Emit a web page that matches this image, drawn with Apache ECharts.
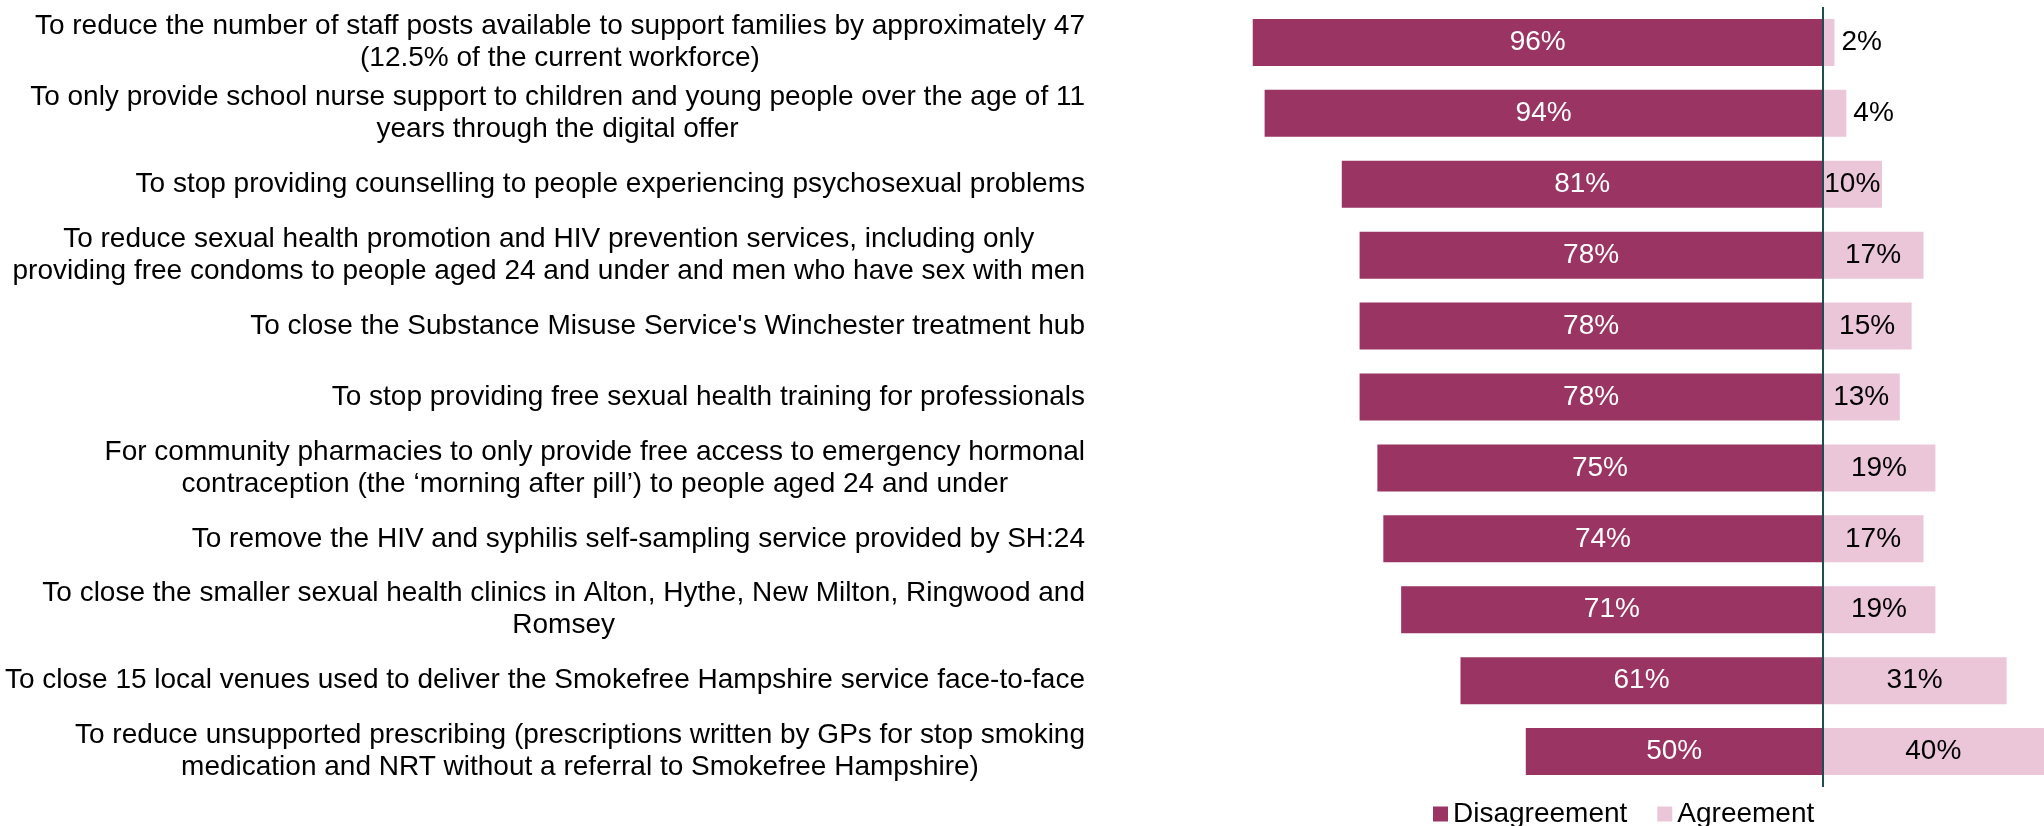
<!DOCTYPE html>
<html>
<head>
<meta charset="utf-8">
<script src="https://cdn.jsdelivr.net/npm/echarts@6/dist/echarts.min.js"></script>
<style>
  html, body { margin: 0; padding: 0; background: #ffffff; }
  #chart { width: 2044px; height: 826px; }
</style>
</head>
<body>
<div id="chart"></div>
<script>
const categories = [
  "To reduce the number of staff posts available to support families by approximately 47\n(12.5% of the current workforce)",
  "To only provide school nurse support to children and young people over the age of 11\nyears through the digital offer",
  "To stop providing counselling to people experiencing psychosexual problems",
  "To reduce sexual health promotion and HIV prevention services, including only\nproviding free condoms to people aged 24 and under and men who have sex with men",
  "To close the Substance Misuse Service's Winchester treatment hub",
  "To stop providing free sexual health training for professionals",
  "For community pharmacies to only provide free access to emergency hormonal\ncontraception (the \u2018morning after pill\u2019) to people aged 24 and under",
  "To remove the HIV and syphilis self-sampling service provided by SH:24",
  "To close the smaller sexual health clinics in Alton, Hythe, New Milton, Ringwood and\nRomsey",
  "To close 15 local venues used to deliver the Smokefree Hampshire service face-to-face",
  "To reduce unsupported prescribing (prescriptions written by GPs for stop smoking\nmedication and NRT without a referral to Smokefree Hampshire)"
];
const disagreement = [96, 94, 81, 78, 78, 78, 75, 74, 71, 61, 50];
const agreement = [2, 4, 10, 17, 15, 13, 19, 17, 19, 31, 40];
const seriesNames = ["Disagreement", "Agreement"];

const FONT = "'Liberation Sans', Arial, sans-serif";
const DARK = "#993463";
const LIGHT = "#EBC5D8";

const chart = echarts.init(document.getElementById('chart'), null, { renderer: 'canvas' });

const agreeData = agreement.map(v => {
  if (v < 5) {
    return { value: v, label: { position: 'right', distance: 7 } };
  }
  return { value: v };
});

const option = {
  animation: false,
  backgroundColor: '#ffffff',
  grid: { left: 1229, right: 0, top: 7, bottom: 39, containLabel: false },
  legend: {
    data: seriesNames,
    left: 1428,
    top: 795,
    icon: 'rect',
    itemWidth: 15,
    itemHeight: 15,
    itemGap: 30,
    textStyle: { fontSize: 28, color: '#000', fontFamily: FONT }
  },
  xAxis: {
    type: 'value',
    min: -100,
    max: 37.3,
    show: false,
    splitLine: { show: false }
  },
  yAxis: {
    type: 'category',
    data: categories,
    inverse: true,
    axisLine: { show: false },
    axisTick: { show: false },
    splitLine: { show: false },
    axisLabel: {
      margin: 144,
      align: 'right',
      formatter: function (val) {
        return val.split('\n').map(l => '{c|' + l + '}').join('\n');
      },
      rich: {
        c: { align: 'center', fontSize: 28, lineHeight: 32, color: '#000', fontFamily: FONT }
      }
    }
  },
  series: [
    {
      name: seriesNames[0],
      type: 'bar',
      stack: 'total',
      barWidth: 47,
      clip: true,
      itemStyle: { color: DARK },
      label: {
        show: true,
        position: 'inside',
        color: '#ffffff',
        fontSize: 28,
        fontFamily: FONT,
        formatter: p => Math.abs(p.value) + '%'
      },
      data: disagreement.map(v => -v)
    },
    {
      name: seriesNames[1],
      type: 'bar',
      stack: 'total',
      barWidth: 47,
      clip: true,
      itemStyle: { color: LIGHT },
      label: {
        show: true,
        position: 'inside',
        color: '#000000',
        fontSize: 28,
        fontFamily: FONT,
        formatter: p => p.value + '%'
      },
      data: agreeData,
      markLine: {
        silent: true,
        symbol: 'none',
        label: { show: false },
        lineStyle: { color: '#1E4E50', width: 2, type: 'solid' },
        data: [{ xAxis: 0 }]
      }
    }
  ]
};

chart.setOption(option);
</script>
</body>
</html>
